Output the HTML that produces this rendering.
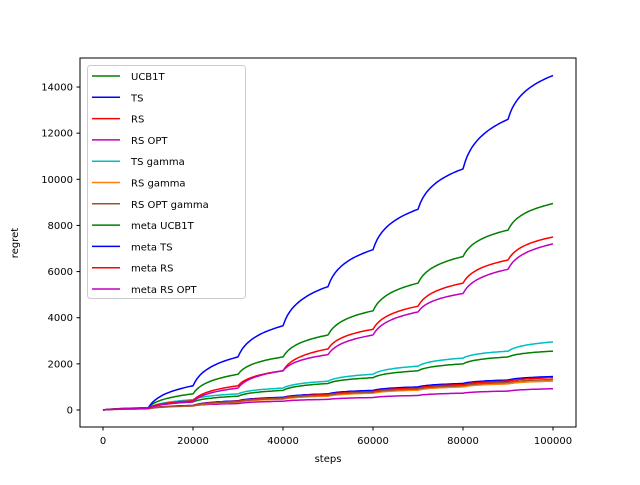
<!DOCTYPE html>
<html><head><meta charset="utf-8"><style>
body{margin:0;background:#fff;}
svg text{font-family:"DejaVu Sans","Liberation Sans",sans-serif;font-size:10px;fill:#000;}
</style></head><body>
<svg id="chart" width="640" height="480">
<rect x="80" y="58" width="496" height="369" fill="#fff" stroke="#000" stroke-width="1"/>
<g id="marks"></g><g id="axes"></g><g id="legend"></g>
<text x="328" y="462" text-anchor="middle">steps</text>
<text x="18" y="243" text-anchor="middle" transform="rotate(-90 18 243)">regret</text>
</svg>
<script>
const steps = [0,10000,20000,30000,40000,50000,60000,70000,80000,90000,100000];
const seriesNames = ["UCB1T","TS","RS","RS OPT","TS gamma","RS gamma","RS OPT gamma","meta UCB1T","meta TS","meta RS","meta RS OPT"];
const seriesColors = ["#008000","#0000ff","#ff0000","#bf00bf","#00bfbf","#ff7f0e","#a0522d","#008000","#0000ff","#ff0000","#bf00bf"];
const ucb1t = [0,90,350,600,850,1150,1400,1700,2000,2300,2550];
const ts = [0,60,200,400,550,700,850,1000,1150,1300,1450];
const rs = [0,60,190,380,520,670,800,950,1100,1250,1400];
const rsOpt = [0,50,180,280,380,460,540,630,730,820,920];
const tsGamma = [0,80,450,700,950,1250,1550,1900,2250,2550,2950];
const rsGamma = [0,55,170,340,470,600,730,860,1000,1130,1250];
const rsOptGamma = [0,58,180,360,500,640,770,910,1050,1190,1320];
const metaUcb1t = [0,100,700,1550,2300,3250,4300,5500,6650,7800,8950];
const metaTs = [0,70,1050,2300,3650,5350,6950,8700,10450,12600,14500];
const metaRs = [0,80,400,1050,1700,2650,3500,4500,5500,6500,7500];
const metaRsOpt = [0,70,350,950,1700,2400,3250,4250,5050,6100,7200];
const allSeries = [ucb1t,ts,rs,rsOpt,tsGamma,rsGamma,rsOptGamma,metaUcb1t,metaTs,metaRs,metaRsOpt];
const xTicks = [0,20000,40000,60000,80000,100000];
const yTicks = [0,2000,4000,6000,8000,10000,12000,14000];

const X = v => 103 + v/100000*450;
const Y = v => 410 - v/2000*46.14;
const NS="http://www.w3.org/2000/svg";
function mk(tag, attrs, parent){const e=document.createElementNS(NS,tag);for(const k in attrs)e.setAttribute(k,attrs[k]);parent.appendChild(e);return e;}
const marks=document.getElementById('marks');
allSeries.forEach((s,i)=>{
  let d="";
  for(let j=0;j<s.length-1;j++){
    for(let k=0;k<=20;k++){
      const f=k/20, sh=Math.log(1+8*f)/Math.log(9);
      const xv=steps[j]+f*(steps[j+1]-steps[j]);
      const yv=s[j]+sh*(s[j+1]-s[j]);
      d+=(d?"L":"M")+X(xv).toFixed(1)+","+Y(yv).toFixed(1);
    }
  }
  const p=mk('path',{d:d,fill:'none',stroke:seriesColors[i],'stroke-width':1.5},marks);
  
  
});
const axes=document.getElementById('axes');
xTicks.forEach(t=>{
  const l=mk('line',{x1:X(t),x2:X(t),y1:427,y2:430.5,stroke:'#000'},axes);
  
  
  const tx=mk('text',{x:X(t),y:444,'text-anchor':'middle'},axes);tx.textContent=t;
  
  
});
yTicks.forEach(t=>{
  const l=mk('line',{x1:76.5,x2:80,y1:Y(t),y2:Y(t),stroke:'#000'},axes);
  
  
  const tx=mk('text',{x:73,y:Y(t)+3.5,'text-anchor':'end'},axes);tx.textContent=t;
  
  
});
const lg=document.getElementById('legend');
const box=mk('rect',{x:87.5,y:65.5,width:158,height:233,rx:3,fill:'#fff','fill-opacity':0.8,stroke:'#ccc'},lg);


seriesNames.forEach((n,i)=>{
  const y=76+i*21.3;
  const l=mk('line',{x1:92,x2:120,y1:y,y2:y,stroke:seriesColors[i],'stroke-width':1.5},lg);
  
  
  const t=mk('text',{x:131,y:y+4},lg);t.textContent=n;
  
  
});
</script>
</body></html>
